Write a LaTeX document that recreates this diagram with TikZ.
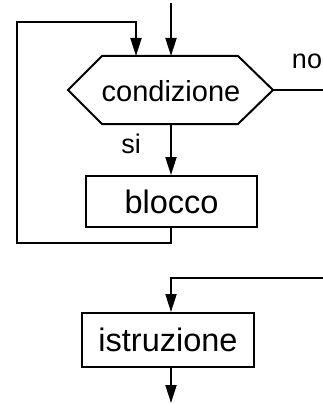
\documentclass[tikz,border=0pt]{standalone}
\usepackage{fontspec}
\setmainfont{Liberation Sans}
\usetikzlibrary{arrows.meta}
\begin{document}
\begin{tikzpicture}[x=1pt,y=-1pt,
  line width=2pt,
  arr/.style={-{Triangle[length=18pt,width=11pt]}},
  boxnode/.style={draw,line width=2pt,inner sep=0pt},
  lbl/.style={inner sep=0pt,font=\fontsize{27}{30}\selectfont}]
\useasboundingbox (0,0) rectangle (323,404);
% hexagon
\coordinate (hT) at (171,56);
\coordinate (hB) at (171,124);
\coordinate (hR) at (273,90);
\draw (102,56) -- (238,56) -- (hR) -- (238,124) -- (102,124) -- (68,90) -- cycle;
\node[lbl,font=\fontsize{29}{32}\selectfont] (cond) at (171,91) {condizione};
% blocco
\node[boxnode,minimum width=171pt,minimum height=51pt,font=\fontsize{32.5}{36}\selectfont] (blocco) at (171.5,201.5) {blocco};
% istruzione
\node[boxnode,minimum width=172pt,minimum height=54pt,font=\fontsize{32.5}{36}\selectfont] (istr) at (168,340) {istruzione};
% coordinates
\coordinate (top) at (171,3);
\coordinate (loopin) at (136,56);
\coordinate (noend) at (323,90);
\coordinate (in2) at (323,278);
\coordinate (out) at (171,403);
% arrows
\draw[arr] (top) -- (hT);
\draw[arr] (hB) -- (blocco.north -| hB);
\draw[arr] (blocco.south -| hB) |- (17,243) |- (136,22) -- (loopin);
\draw (hR) -- (noend);
\draw[arr] (in2) -| (istr.north -| hB);
\draw[arr] (istr.south -| hB) -- (out);
% labels
\node[lbl] (no) at (307,61) {no};
\node[lbl] (si) at (131,144) {si};
\end{tikzpicture}
\end{document}
